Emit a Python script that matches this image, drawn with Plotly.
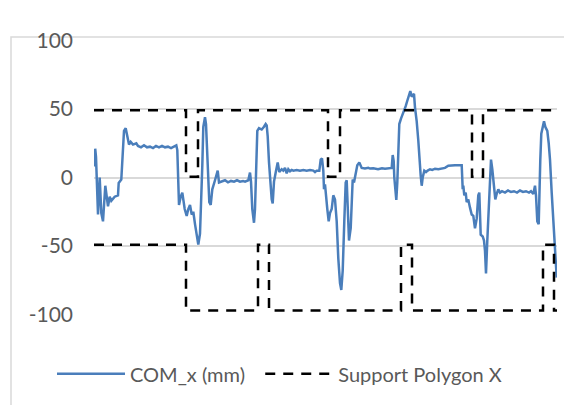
import plotly.graph_objects as go

# COM_x trace (frame index, mm)
com_frame = [0.5, 1.2, 2.0, 4.0, 5.7, 7.3, 9.0, 11.3, 14.0, 15.7, 17.3, 20.7, 24.0, 24.7, 27.3, 28.3,
             30.0, 31.7, 33.3, 35.0, 36.7, 39.0, 42.3, 44.0, 47, 50, 53, 56, 59, 62, 65, 68, 71, 74,
             77, 80, 82.3, 83.3, 84.0, 85.0, 86.7, 88.3, 90.7, 92.7, 94.3, 96.0, 97.7, 99.3, 101.0,
             102.7, 104.3, 106.0, 107.0, 108.3, 109.3, 111.0, 112.0, 113.3, 114.3, 115.3, 116.7, 118.3,
             121.0, 122.7, 123.7, 125.0, 128, 131, 134, 137, 140, 143, 146, 149, 151, 154.3, 156.0,
             157.0, 158.3, 160.0, 161.0, 162.0, 163.3, 165.0, 167.7, 170.0, 171.7, 172.7, 173.7, 175.0,
             176.3, 177.7, 178.7, 180.0, 181.7, 183.7, 185.3, 187.7, 189.3, 191.0, 192.7, 194.3, 196.0,
             197.7, 199.3, 202.7, 206.0, 209.3, 212.7, 216, 219.3, 221.0, 222.7, 225.3, 226.7, 228.0,
             229.3, 230.0, 231.0, 232.0, 233.3, 234.7, 236.0, 237.7, 239.3, 241.0, 242.7, 244.3, 246.0,
             247.3, 248.7, 250.3, 251.7, 252.7, 253.7, 255.0, 256.7, 257.7, 258.7, 260.0, 261.7, 263.3,
             265.3, 267.7, 271.0, 274.3, 276.0, 279.3, 284, 288, 291, 294, 297.7, 298.7, 299.7, 300.3,
             301.3, 302.3, 303.3, 304.3, 305.3, 307.0, 308.7, 310.0, 311.7, 313.3, 315.0, 316.3, 317.7,
             318.7, 320.0, 321.0, 322.7, 324.3, 325.3, 326.7, 327.7, 328.7, 330.3, 332.0, 333.7, 336.0,
             338.3, 341.0, 344.3, 347.7, 351.0, 354.3, 357.7, 361.0, 364.0, 367.7, 368.3, 368.7, 369.3,
             370.3, 371.7, 372.7, 374.3, 376.0, 377.7, 379.3, 381.0, 382.7, 384.3, 385.3, 386.7, 388.7,
             390.0, 391.0, 392.0, 393.3, 394.7, 396.0, 397.0, 398.3, 400.0, 401.3, 402.7, 404.3, 406.0,
             408, 411, 414, 417, 420, 423, 426, 429, 432, 435, 437, 439.3, 441.0, 442.0, 443.3, 444.7,
             445.3, 446.3, 447.3, 448.7, 450.0, 451.3, 453.3, 454.7, 456.0, 457.7, 459.3, 461.0, 462.7]
com_mm = [8, 21, 15, -27, 0, -26, -32, -6, -21, -14, -17, -14, -13, -4, -1.5, 16,
          34, 36, 30, 24, 26, 24, 25, 23, 22, 23.5, 22, 22.5, 21.5, 23, 22, 23, 22, 22.5,
          21.5, 23, 23.5, 20, 1.5, -20, -14, -11, -23, -28, -23, -20, -27, -25, -34,
          -44, -49, -41, -23, 8.6, 37, 44, 39, 20, -1.5, -18, -20, -8.6,
          -2, 3.6, 5, -3.6, -3, -2, -3.5, -2.5, -3, -2, -3, -2.5, -3, -2, 3.6,
          -3, -23, -33, -23, 8.6, 34, 36, 35, 37, 39, 38, 30, 11,
          -6, -16, -19, -3, 3.6, 11, 4, 6, 5, 7, 3, 6, 4.5,
          5.5, 5, 5.5, 5, 5.5, 5, 5.5, 5, 4, 5, 5, 13, 14,
          5, -8.6, -5, -11, -23, -32, -26, -23, -13, -16, -32, -59, -77,
          -82, -68, -32, -3.6, -2, -23, -46, -37, -18, -1.5, -3.6, 4, 9,
          11, 7, 6.5, 7, 6.5, 6.7, 6, 6.8, 6.4, 6.8, 7, 16.4, 12, 0,
          -13, -16.4, -3.6, 20, 39, 43, 46, 48.6, 52, 56, 61, 63, 59,
          60, 61, 51, 41, 27, 13, 1.4, -6, 0, 5, 4, 5, 6,
          5.5, 6.4, 6, 6.4, 7, 8.6, 9, 9, 9, 9, -1.5, -8.6, -6,
          -13, -11, -18, -16, -22, -27, -28, -37, -30, -13, -11, -41.7, -43,
          -46, -53.6, -70, -46, -18, 3.6, 13, 6, -6, -16, -12, -8.6, -11,
          -10, -11, -9.5, -10.5, -10, -11, -9.5, -10.5, -10, -11, -10, -12, -6, -13, -32, -34,
          -11, 13, 32, 38, 41, 37, 34, 25, 13, -11, -34, -54, -73]

# Support polygon X (frame index, mm): upper and lower boundaries
sp_upper_frame = [0, 92, 92, 104, 104, 234, 234, 246, 246, 378, 378, 389, 389, 463]
sp_upper_mm = [49, 49, 0.5, 0.5, 49, 49, 0.5, 0.5, 49, 49, 0.5, 0.5, 49, 49]
sp_lower_frame = [0, 92, 92, 164, 164, 175, 175, 307, 307, 318, 318, 449, 449, 460, 460, 463]
sp_lower_mm = [-49, -49, -97, -97, -49, -49, -97, -97, -49, -49, -97, -97, -49, -49, -97, -97]

y_ticks = [-100, -50, 0, 50, 100]
y_tick_labels = ["-100", "-50", "0", "50", "100"]

FONT = "Lato"
GREY = "#595959"

# page body has an 8px margin; figure is sized so it ends at the window edge
W, H = 564, 397
L, T, R, B = 86, 32, 15, 85
PW, PH = W - L - R, H - T - B

fig = go.Figure()
fig.add_trace(go.Scatter(
    x=com_frame, y=com_mm, mode="lines", name="COM_x (mm)\u00a0\u00a0",
    line=dict(color="#4a7ebb", width=2.5),
))
fig.add_trace(go.Scatter(
    x=sp_upper_frame + [None] + sp_lower_frame,
    y=sp_upper_mm + [None] + sp_lower_mm,
    mode="lines", name="Support Polygon X", connectgaps=False,
    line=dict(color="black", width=2.5, dash="10px,8px"),
))

fig.update_layout(
    width=W, height=H,
    margin=dict(l=L, r=R, t=T, b=B, pad=0),
    paper_bgcolor="white", plot_bgcolor="white",
    font=dict(family=FONT, color=GREY),
    showlegend=True,
    legend=dict(orientation="h", x=(44 - L) / PW, xanchor="left", y=-0.214, yanchor="middle",
                font=dict(family=FONT, size=20, color=GREY), bgcolor="rgba(0,0,0,0)",
                itemwidth=68, traceorder="normal"),
    xaxis=dict(range=[0, 463], showgrid=False, zeroline=False, showticklabels=False,
               showline=False, ticks="", automargin=False),
    yaxis=dict(range=[-100.3, 100.3], tickvals=y_ticks, ticktext=y_tick_labels,
               showgrid=True, gridcolor="#d9d9d9", gridwidth=1.8, zeroline=False,
               showline=False, ticks="", automargin=False,
               tickfont=dict(family=FONT, size=21, color=GREY), ticklabelstandoff=20),
    shapes=[dict(type="rect", xref="paper", yref="paper",
                 x0=(3 - L) / PW, x1=1.3, y0=-0.6, y1=(PH + 3) / PH,
                 line=dict(color="#d9d9d9", width=1.5), fillcolor="rgba(0,0,0,0)", layer="below")],
)

fig.write_html("out.html")
